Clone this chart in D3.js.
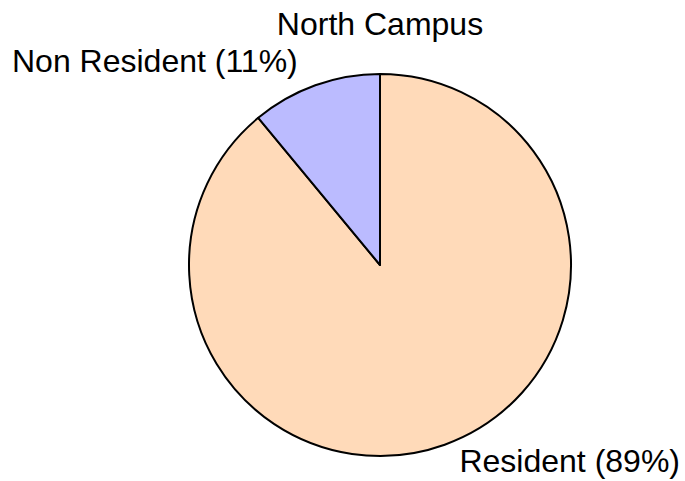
<!DOCTYPE html>
<html><head><meta charset="utf-8">
<script src="https://cdn.jsdelivr.net/npm/d3@7"></script>
<style>body{margin:0;background:#fff}svg{display:block}text{font-family:"Liberation Sans",Arial,sans-serif;fill:#000}</style>
</head><body>
<script>
const title = "North Campus";
const categories = ["Resident", "Non Resident"];
const values = [89, 11];
const colors = ["#FFDAB9", "#BBBBFF"];

const W = 685, H = 481, cx = 380, cy = 265, r = 191;
const svg = d3.select("body").append("svg").attr("width", W).attr("height", H);

const data = categories.map((c, i) => ({name: c, value: values[i], color: colors[i]}));
const pie = d3.pie().value(d => d.value).sort(null);
const arcs = pie(data);
const arc = d3.arc().innerRadius(0).outerRadius(r);

const g = svg.append("g").attr("transform", `translate(${cx},${cy})`);
g.selectAll("path").data(arcs).enter().append("path")
  .attr("d", arc).attr("fill", d => d.data.color)
  .attr("stroke", "#000").attr("stroke-width", 2).attr("stroke-linejoin", "round");

svg.append("text").attr("x", cx).attr("y", 35).attr("text-anchor", "middle")
  .attr("font-size", 32).text(title);

const total = d3.sum(values);
const pct = v => `(${Math.round(v / total * 100)}%)`;
svg.append("text").attr("x", 12).attr("y", 72).attr("font-size", 32)
  .text(`${categories[1]} ${pct(values[1])}`);
svg.append("text").attr("x", 680).attr("y", 472).attr("text-anchor", "end").attr("font-size", 32)
  .text(`${categories[0]} ${pct(values[0])}`);
</script>
</body></html>
